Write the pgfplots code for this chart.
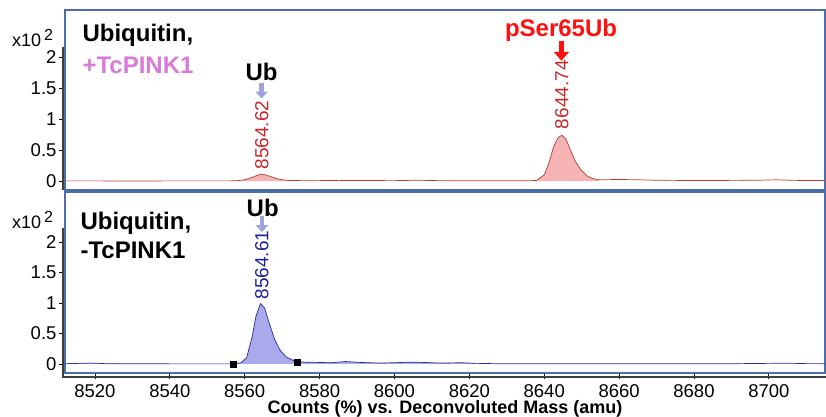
\documentclass[border=0pt]{standalone}
\usepackage{fontspec}
\setmainfont{Liberation Sans}
\usepackage{pgfplots}
\pgfplotsset{compat=1.18}
\usetikzlibrary{arrows.meta}
\definecolor{frameblue}{HTML}{4A6FA8}
\definecolor{redline}{HTML}{B53A3A}
\definecolor{redfill}{HTML}{F5B3B3}
\definecolor{rednum}{HTML}{C62828}
\definecolor{pser}{HTML}{FF1010}
\definecolor{magentatxt}{HTML}{D87AD8}
\definecolor{navyline}{HTML}{2A2A9A}
\definecolor{bluefill}{HTML}{A9A9EC}
\definecolor{bluenum}{HTML}{1F1F99}
\definecolor{lavarrow}{HTML}{9FA3E0}
\pgfplotsset{
  common/.style={
    scale only axis, width=760pt, xmin=8512, xmax=8715,
    axis line style={draw=frameblue, line width=2pt},
    tick style={black, line width=0.9pt},
    tick align=outside, major tick length=6pt,
    ytick pos=left, xtick pos=bottom,
    ytick={0,0.5,1,1.5,2}, yticklabels={0,0.5,1,1.5,2},
    tick label style={font=\fontsize{18.5}{18.5}\selectfont},
    yticklabel style={xshift=1pt},
    xticklabel style={anchor=base, inner sep=0pt, yshift=-18pt},
    /pgf/number format/assume math mode=true,
    clip=true,
  }
}
\begin{document}
\begin{tikzpicture}
\path[use as bounding box] (0pt,0pt) rectangle (826pt,417pt);
% ---------- top panel ----------
\begin{axis}[common, at={(65pt,227pt)}, anchor=south west, height=180pt,
  ymin=-0.145, ymax=2.76, xtick=\empty]
\addplot[draw=none, fill=redfill] coordinates {
 (8558,0) (8560,0.02) (8562,0.06) (8563.5,0.095) (8564.4,0.11) (8565.5,0.1) (8567,0.07) (8568.5,0.04) (8570,0.02) (8572,0.008) (8572,0)};
\addplot[draw=none, fill=redfill] coordinates {
 (8637,0) (8638,0.01) (8640,0.1) (8641.3,0.3) (8642.5,0.55) (8643.7,0.7) (8644.7,0.74) (8645.8,0.68) (8647,0.5) (8648.3,0.32) (8649.8,0.18) (8651.5,0.08) (8653,0.04) (8654.7,0.02) (8654.7,0)};
\addplot[draw=redline, line width=0.7pt] coordinates {
 (8512,0.002) (8520,0.002) (8530,0.001) (8540,0.002) (8550,0.002) (8556,0.002)
 (8558,0.005) (8560,0.02) (8562,0.06) (8563.5,0.095) (8564.4,0.11) (8565.5,0.1) (8567,0.07) (8568.5,0.04) (8570,0.02) (8572,0.008)
 (8578,0.005) (8585,0.01) (8592,0.008) (8600,0.006) (8606,0.012) (8612,0.006) (8620,0.004) (8630,0.003) (8636,0.004)
 (8638,0.01) (8640,0.1) (8641.3,0.3) (8642.5,0.55) (8643.7,0.7) (8644.7,0.74) (8645.8,0.68) (8647,0.5) (8648.3,0.32) (8649.8,0.18) (8651.5,0.08) (8653,0.04) (8654.7,0.02)
 (8660,0.025) (8665,0.02) (8670,0.012) (8680,0.008) (8690,0.01) (8697,0.012) (8702,0.02) (8707,0.01) (8715,0.008)};
\node[font=\bfseries\fontsize{24}{24}\selectfont] at (axis cs:8564.5,1.76) {Ub};
\draw[-{Triangle[width=12pt,length=7pt]}, line width=4.5pt, lavarrow] (axis cs:8564.5,1.58) -- (axis cs:8564.5,1.33);
\node[rotate=90, anchor=west, text=rednum, font=\fontsize{19}{19}\selectfont, inner sep=1pt] at (axis cs:8564.6,0.17) {8564.62};
\node[text=pser, font=\bfseries\fontsize{24}{24}\selectfont] at (axis cs:8644.5,2.44) {pSer65Ub};
\draw[-{Triangle[width=15pt,length=9pt]}, line width=5pt, pser] (axis cs:8644.6,2.26) -- (axis cs:8644.6,1.94);
\node[rotate=90, anchor=west, text=rednum, font=\fontsize{19}{19}\selectfont, inner sep=1pt] at (axis cs:8644.7,0.82) {8644.74};
\end{axis}
% ---------- bottom panel ----------
\begin{axis}[common, at={(65pt,44pt)}, anchor=south west, height=181pt,
  ymin=-0.148, ymax=2.82,
  xtick={8520,8540,8560,8580,8600,8620,8640,8660,8680,8700},
  xticklabels={8520,8540,8560,8580,8600,8620,8640,8660,8680,8700}]
\addplot[draw=none, fill=bluefill] coordinates {
 (8512,0) (8512,0.005) (8516,0.01) (8519,0.015) (8523,0.005) (8530,0.003) (8540,0.002) (8550,0.002) (8557,0.002)
 (8559,0.02) (8560.5,0.1) (8562,0.45) (8563,0.78) (8564.2,0.99) (8565.3,0.92) (8566.5,0.68) (8568,0.4) (8569.5,0.22) (8571,0.12) (8572.5,0.07) (8574,0.04)
 (8576,0.03) (8580,0.025) (8583,0.02) (8587,0.04) (8591,0.025) (8596,0.015) (8600,0.02) (8604,0.03) (8608,0.025) (8612,0.015) (8618,0.02) (8622,0.01) (8622,0)};
\addplot[draw=navyline, line width=0.7pt] coordinates {
 (8512,0.005) (8516,0.01) (8519,0.015) (8523,0.005) (8530,0.003) (8540,0.002) (8550,0.002) (8557,0.002)
 (8559,0.02) (8560.5,0.1) (8562,0.45) (8563,0.78) (8564.2,0.99) (8565.3,0.92) (8566.5,0.68) (8568,0.4) (8569.5,0.22) (8571,0.12) (8572.5,0.07) (8574,0.04)
 (8576,0.03) (8580,0.025) (8583,0.02) (8587,0.04) (8591,0.025) (8596,0.015) (8600,0.02) (8604,0.03) (8608,0.025) (8612,0.015) (8618,0.02) (8622,0.01)
 (8627,0.005) (8635,0.005) (8645,0.003) (8660,0.005) (8670,0.004) (8690,0.004) (8700,0.01) (8705,0.012) (8710,0.006) (8715,0.005)};
\addplot[only marks, mark=square*, mark size=3pt, black] coordinates {(8557,0) (8574,0.03)};
\node[font=\bfseries\fontsize{24}{24}\selectfont] at (axis cs:8564.8,2.56) {Ub};
\draw[-{Triangle[width=12pt,length=7pt]}, line width=4.5pt, lavarrow] (axis cs:8564.6,2.42) -- (axis cs:8564.6,2.16);
\node[rotate=90, anchor=west, text=bluenum, font=\fontsize{19}{19}\selectfont, inner sep=1pt] at (axis cs:8564.6,1.04) {8564.61};
\end{axis}
% axis spines
\draw[black!75, line width=1.2pt] (63pt,370pt) -- (63pt,227pt);
\draw[black!75, line width=1.2pt] (63pt,189pt) -- (63pt,40pt) -- (826pt,40pt);
% panel texts
\node[anchor=west, font=\bfseries\fontsize{24}{24}\selectfont] at (79pt,382pt) {Ubiquitin,};
\node[anchor=west, text=magentatxt, font=\bfseries\fontsize{24}{24}\selectfont] at (79pt,352pt) {+TcPINK1};
\node[anchor=west, font=\bfseries\fontsize{24}{24}\selectfont] at (77pt,194pt) {Ubiquitin,};
\node[anchor=west, font=\bfseries\fontsize{24}{24}\selectfont] at (77pt,167pt) {-TcPINK1};
\node[anchor=west, font=\fontsize{18}{18}\selectfont, inner sep=0pt] at (12pt,379pt) {x10\,\raisebox{6pt}{\fontsize{16}{16}\selectfont 2}};
\node[anchor=west, font=\fontsize{18}{18}\selectfont, inner sep=0pt] at (12pt,197pt) {x10\,\raisebox{6pt}{\fontsize{16}{16}\selectfont 2}};
\node[anchor=base, inner sep=0pt, font=\bfseries\fontsize{18}{18}\selectfont] at (445pt,3pt) {Counts (\%) vs. Deconvoluted Mass (amu)};
\end{tikzpicture}
\end{document}
